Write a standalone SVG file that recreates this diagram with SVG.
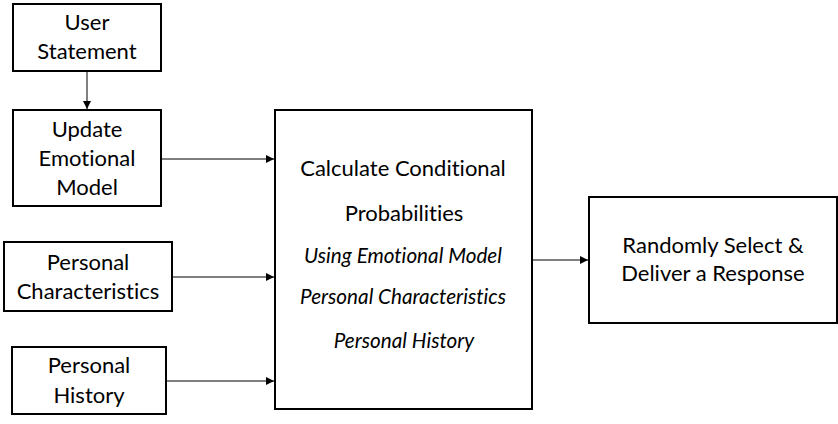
<svg xmlns="http://www.w3.org/2000/svg" width="838" height="424" viewBox="0 0 838 424">
<defs>
<marker id="ah" viewBox="0 0 10 10" refX="10" refY="5" markerWidth="8" markerHeight="8" markerUnits="userSpaceOnUse" orient="auto">
<path d="M0,0 L10,5 L0,10 z" fill="#000"/>
</marker>
<style>
.box{fill:#fff;stroke:#000;stroke-width:2}
.t{font-family:Lato,"Liberation Sans",sans-serif;font-size:22px;fill:#000;text-anchor:middle;font-variant-ligatures:none}
.i{font-family:Lato,"Liberation Sans",sans-serif;font-size:20.7px;font-style:italic;fill:#000;text-anchor:middle;font-variant-ligatures:none}
.c{stroke:#000;stroke-width:1;fill:none;marker-end:url(#ah)}
</style>
</defs>
<rect width="838" height="424" fill="#fff"/>
<g id="connectors">
<line class="c" x1="87" y1="72" x2="87" y2="109"/>
<line class="c" x1="162" y1="159" x2="274" y2="159"/>
<line class="c" x1="173" y1="277" x2="274" y2="277"/>
<line class="c" x1="167" y1="381" x2="274" y2="381"/>
<line class="c" x1="533" y1="260" x2="588" y2="260"/>
</g>
<g id="user-statement">
<rect class="box" x="13" y="4" width="148" height="67"/>
<text class="t" x="87" y="30">User</text>
<text class="t" x="87" y="59">Statement</text>
</g>
<g id="update-emotional-model">
<rect class="box" x="13" y="110" width="148" height="96"/>
<text class="t" x="87" y="137">Update</text>
<text class="t" x="87" y="166">Emotional</text>
<text class="t" x="87" y="195">Model</text>
</g>
<g id="personal-characteristics">
<rect class="box" x="4" y="242" width="168" height="69"/>
<text class="t" x="88" y="270">Personal</text>
<text class="t" x="88" y="299">Characteristics</text>
</g>
<g id="personal-history">
<rect class="box" x="12" y="347" width="154" height="67"/>
<text class="t" x="89" y="373">Personal</text>
<text class="t" x="89" y="403">History</text>
</g>
<g id="calculate">
<rect class="box" x="275" y="110" width="257" height="299"/>
<text class="t" x="403" y="176">Calculate Conditional</text>
<text class="t" x="404" y="221">Probabilities</text>
<text class="i" x="403" y="263">Using Emotional Model</text>
<text class="i" x="403" y="304">Personal Characteristics</text>
<text class="i" x="404" y="348">Personal History</text>
</g>
<g id="select-response">
<rect class="box" x="589" y="197" width="248" height="126"/>
<text class="t" x="713" y="253">Randomly Select &amp;</text>
<text class="t" x="713" y="281">Deliver a Response</text>
</g>
</svg>
